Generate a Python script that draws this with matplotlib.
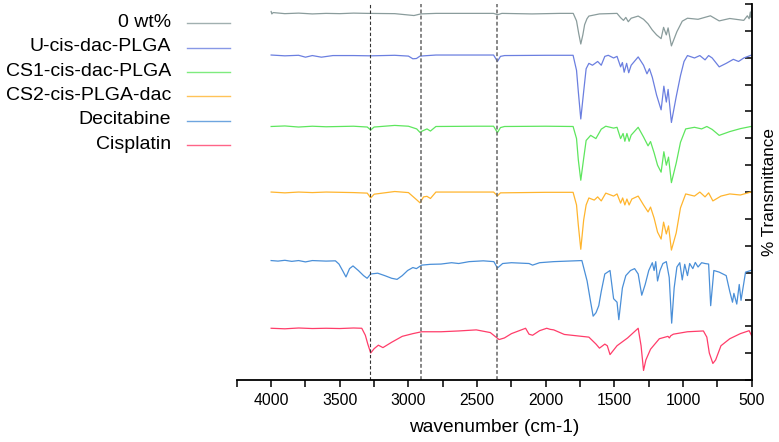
import matplotlib
matplotlib.use("Agg")
import matplotlib.pyplot as plt
from matplotlib.lines import Line2D
from matplotlib.ticker import MultipleLocator, NullFormatter

plt.rcParams["font.family"] = ["Liberation Sans", "DejaVu Sans"]

# ---------------------------------------------------------------------------
# FTIR spectra (stacked, arbitrary % transmittance units)
labels = ["0 wt%", "U-cis-dac-PLGA", "CS1-cis-dac-PLGA",
          "CS2-cis-PLGA-dac", "Decitabine", "Cisplatin"]
colors = ["#8a9c9c", "#6b7fe0", "#5ee65e", "#ffb52e", "#4a8fd8", "#ff3d6a"]

wn_blank = [4000, 3995, 3985, 3900, 3800, 3700, 3600, 3500, 3400, 3300, 3100,
            3020, 2960, 2910, 2800, 2500, 2380, 2350, 2320, 2100, 1900, 1800,
            1776, 1760, 1745, 1730, 1717, 1700, 1686, 1609, 1481, 1455, 1434,
            1417, 1399, 1378, 1327, 1288, 1255, 1224, 1193, 1160, 1142, 1122,
            1109, 1085, 1045, 1006, 968, 891, 801, 737, 660, 558, 532, 519,
            510, 505, 500]
t_blank = [137.2, 136.3, 136.8, 136.4, 136.6, 136.3, 136.5, 136.4, 136.6,
           136.5, 136.4, 136.0, 135.7, 136.3, 136.5, 136.5, 136.5, 136.0,
           136.5, 136.3, 136.5, 136.5, 133.7, 129.0, 125.1, 128.5, 132.3,
           134.5, 135.5, 136.3, 136.5, 134.9, 133.9, 135.0, 133.4, 134.7,
           135.5, 134.3, 132.6, 130.3, 128.5, 127.1, 131.3, 128.5, 131.1,
           124.4, 129.7, 133.6, 134.7, 134.3, 135.6, 133.7, 134.6, 133.9,
           135.6, 134.5, 137.0, 135.0, 138.5]

wn_u = [4000, 3900, 3800, 3750, 3700, 3634, 3550, 3400, 3275, 3100, 3000,
        2968, 2942, 2916, 2800, 2500, 2380, 2352, 2330, 2300, 2000, 1801,
        1776, 1763, 1745, 1724, 1706, 1686, 1660, 1622, 1596, 1570, 1545,
        1506, 1481, 1455, 1442, 1429, 1411, 1396, 1378, 1327, 1288, 1263,
        1245, 1224, 1193, 1160, 1140, 1122, 1109, 1085, 1050, 1019, 993,
        968, 917, 878, 840, 814, 788, 737, 686, 634, 596, 558, 506, 500]
t_u = [121.0, 120.7, 120.9, 120.2, 120.8, 120.2, 120.8, 120.8, 120.7, 120.9,
       120.6, 119.6, 119.7, 120.6, 121.0, 121.0, 121.0, 118.6, 120.5, 120.8,
       120.9, 120.9, 115.3, 107.4, 97.2, 107.4, 115.9, 117.9, 117.2, 118.6,
       117.2, 120.5, 120.9, 119.9, 120.5, 116.6, 118.2, 114.6, 117.9, 114.4,
       117.2, 120.3, 117.2, 114.0, 115.9, 112.7, 106.1, 100.6, 109.4, 103.5,
       108.2, 95.9, 105.5, 113.3, 118.6, 120.8, 119.9, 120.8, 119.2, 120.8,
       119.9, 116.6, 117.9, 119.4, 118.6, 119.9, 120.9, 121.0]

wn_cs1 = [4000, 3900, 3800, 3700, 3600, 3400, 3300, 3275, 3250, 3100, 3000,
          2940, 2916, 2900, 2865, 2840, 2800, 2500, 2380, 2352, 2330, 2300,
          2000, 1801, 1776, 1763, 1745, 1724, 1706, 1673, 1635, 1596, 1563,
          1506, 1481, 1455, 1437, 1424, 1409, 1393, 1378, 1327, 1288, 1255,
          1237, 1211, 1186, 1160, 1140, 1122, 1106, 1085, 1050, 1019, 981,
          917, 865, 827, 788, 737, 660, 583, 506, 500]
t_cs1 = [94.4, 94.6, 94.2, 94.5, 94.3, 94.5, 94.2, 93.1, 94.2, 94.8, 94.5,
         93.5, 92.2, 92.7, 93.5, 92.7, 94.4, 94.5, 94.5, 92.1, 94.0, 94.4,
         94.5, 94.4, 89.9, 82.0, 74.4, 82.5, 89.2, 91.1, 89.9, 93.4, 94.5,
         93.8, 94.1, 89.9, 91.8, 88.9, 91.8, 88.9, 91.2, 94.1, 90.5, 87.2,
         88.8, 84.6, 80.0, 77.4, 85.0, 80.0, 83.0, 73.5, 80.8, 88.5, 93.5,
         94.1, 93.5, 94.4, 93.3, 91.1, 92.5, 93.6, 94.4, 94.4]

wn_cs2 = [4000, 3900, 3800, 3700, 3600, 3400, 3300, 3275, 3250, 3100, 3000,
          2942, 2916, 2890, 2865, 2840, 2800, 2500, 2380, 2352, 2330, 2000,
          1801, 1776, 1763, 1745, 1724, 1706, 1686, 1647, 1622, 1596, 1563,
          1506, 1481, 1455, 1440, 1424, 1409, 1393, 1373, 1327, 1288, 1255,
          1237, 1211, 1186, 1160, 1142, 1122, 1106, 1085, 1050, 1019, 981,
          917, 878, 840, 814, 783, 724, 660, 583, 506, 500]
t_cs2 = [70.0, 69.7, 70.0, 69.8, 70.0, 69.8, 69.6, 67.8, 69.2, 70.2, 69.8,
         67.2, 66.0, 68.2, 68.4, 67.6, 70.0, 70.0, 70.0, 68.6, 69.7, 69.9,
         69.9, 65.2, 57.7, 48.7, 59.6, 65.2, 67.8, 67.0, 68.2, 66.7, 69.6,
         68.5, 69.3, 65.9, 67.8, 65.2, 67.4, 65.2, 67.4, 68.5, 65.2, 62.6,
         64.4, 60.3, 55.1, 52.5, 58.8, 54.4, 57.4, 48.4, 54.8, 64.1, 69.3,
         68.5, 70.0, 68.2, 69.7, 66.7, 68.5, 69.3, 68.9, 70.0, 70.0]

wn_dac = [4000, 3950, 3900, 3850, 3800, 3750, 3700, 3600, 3532, 3506, 3480,
          3455, 3429, 3404, 3365, 3327, 3301, 3275, 3224, 3173, 3122, 3083,
          3045, 3006, 2968, 2942, 2904, 2840, 2763, 2686, 2634, 2558, 2455,
          2378, 2352, 2314, 2250, 2122, 2096, 2045, 1942, 1737, 1699, 1673,
          1655, 1634, 1614, 1596, 1570, 1532, 1506, 1481, 1468, 1442, 1417,
          1383, 1353, 1327, 1301, 1276, 1250, 1224, 1211, 1199, 1186, 1168,
          1147, 1122, 1101, 1083, 1065, 1045, 1024, 1006, 988, 968, 952, 929,
          911, 891, 865, 840, 814, 799, 776, 737, 686, 660, 640, 630, 609,
          591, 578, 545, 506, 500]
t_dac = [44.5, 44.3, 44.6, 44.2, 44.5, 44.0, 44.5, 44.3, 44.4, 43.2, 40.8,
         38.4, 41.5, 42.5, 40.8, 38.9, 37.9, 39.5, 39.8, 38.9, 37.9, 37.5,
         38.9, 40.8, 41.9, 41.5, 42.8, 43.1, 43.2, 43.7, 43.4, 44.1, 44.4,
         44.1, 41.7, 43.4, 43.7, 43.4, 42.8, 43.7, 44.1, 44.5, 36.9, 29.0,
         23.8, 25.1, 27.7, 33.0, 39.5, 40.8, 30.3, 29.0, 22.5, 34.3, 38.9,
         40.8, 41.5, 39.5, 31.6, 35.6, 40.8, 43.7, 40.8, 44.1, 36.9, 40.8,
         43.4, 44.1, 38.2, 21.2, 34.3, 42.1, 43.7, 37.3, 43.1, 38.9, 43.4,
         41.5, 43.8, 42.1, 43.7, 43.4, 43.2, 27.7, 40.8, 40.2, 38.9, 33.0,
         29.0, 32.3, 28.3, 35.6, 29.7, 40.2, 40.8, 41.0]

wn_cis = [4000, 3900, 3800, 3700, 3600, 3500, 3400, 3340, 3314, 3296, 3275,
          3250, 3219, 3186, 3122, 3045, 2968, 2904, 2763, 2634, 2506, 2404,
          2340, 2301, 2250, 2147, 2122, 2096, 2045, 1993, 1968, 1942, 1865,
          1686, 1634, 1609, 1570, 1552, 1532, 1481, 1404, 1327, 1306, 1288,
          1271, 1237, 1173, 1110, 1100, 1090, 1071, 968, 852, 827, 809, 783,
          763, 724, 660, 583, 519, 500]
t_cis = [19.3, 19.1, 19.4, 19.2, 19.3, 19.2, 19.4, 19.3, 16.7, 13.4, 10.1,
         11.7, 13.0, 12.1, 14.1, 16.3, 17.3, 18.0, 18.0, 18.3, 18.7, 17.7,
         15.1, 15.7, 17.3, 19.3, 17.1, 16.7, 18.4, 19.3, 18.9, 18.7, 17.0,
         16.0, 13.4, 11.9, 13.4, 12.8, 9.5, 12.8, 15.7, 19.3, 12.8, 3.6,
         7.5, 11.5, 15.4, 16.3, 15.7, 16.5, 17.1, 18.0, 18.3, 16.0, 10.1,
         6.2, 7.5, 12.8, 15.4, 17.3, 18.4, 16.5]

marker_lines = [3280, 2910, 2355]   # dashed guide lines (cm-1)

series = [(wn_blank, t_blank), (wn_u, t_u), (wn_cs1, t_cs1),
          (wn_cs2, t_cs2), (wn_dac, t_dac), (wn_cis, t_cis)]

# ---------------------------------------------------------------------------
fig = plt.figure(figsize=(7.79, 4.42), dpi=100)
ax = fig.add_axes([0.304, 0.140, 0.661, 0.851])

for (wn, t), c in zip(series, colors):
    ax.plot(wn, t, color=c, lw=0.9)

ax.axvline(marker_lines[0], color="#333333", ls=(0, (3, 2)), lw=0.8)
for x in marker_lines[1:]:
    ax.axvline(x, color="#666666", ls=(0, (2.5, 1.5)), lw=1.1)

ax.set_xlim(4250, 500)
ax.set_ylim(0, 140)

ax.spines["top"].set_visible(False)
ax.spines["left"].set_visible(False)
ax.spines["bottom"].set_linewidth(1.3)
ax.spines["right"].set_linewidth(1.3)

ax.xaxis.set_major_locator(MultipleLocator(500))
ax.xaxis.set_minor_locator(MultipleLocator(250))
ax.tick_params(axis="x", which="both", direction="out", length=5, width=1.1,
               labelsize=11.3, pad=4)

ax.yaxis.tick_right()
ax.yaxis.set_major_locator(MultipleLocator(10))
ax.yaxis.set_major_formatter(NullFormatter())
ax.tick_params(axis="y", which="both", direction="in", length=5, width=1.1,
               left=False, right=True)
ax.yaxis.set_label_position("right")
ax.set_ylabel("% Transmittance", fontsize=12.3, labelpad=4)
ax.set_xlabel("wavenumber (cm-1)", fontsize=13.8, labelpad=8)

# legend drawn to the left of the plot, text right-aligned
row_y = [0.949, 0.894, 0.839, 0.784, 0.729, 0.673]
for lab, c, y in zip(labels, colors, row_y):
    fig.text(0.2195, y, lab, ha="right", va="center", fontsize=14)
    fig.add_artist(Line2D([0.240, 0.295], [y - 0.002, y - 0.002],
                          color=c, lw=1.0, alpha=0.8))

plt.savefig("out.png", dpi=100)
